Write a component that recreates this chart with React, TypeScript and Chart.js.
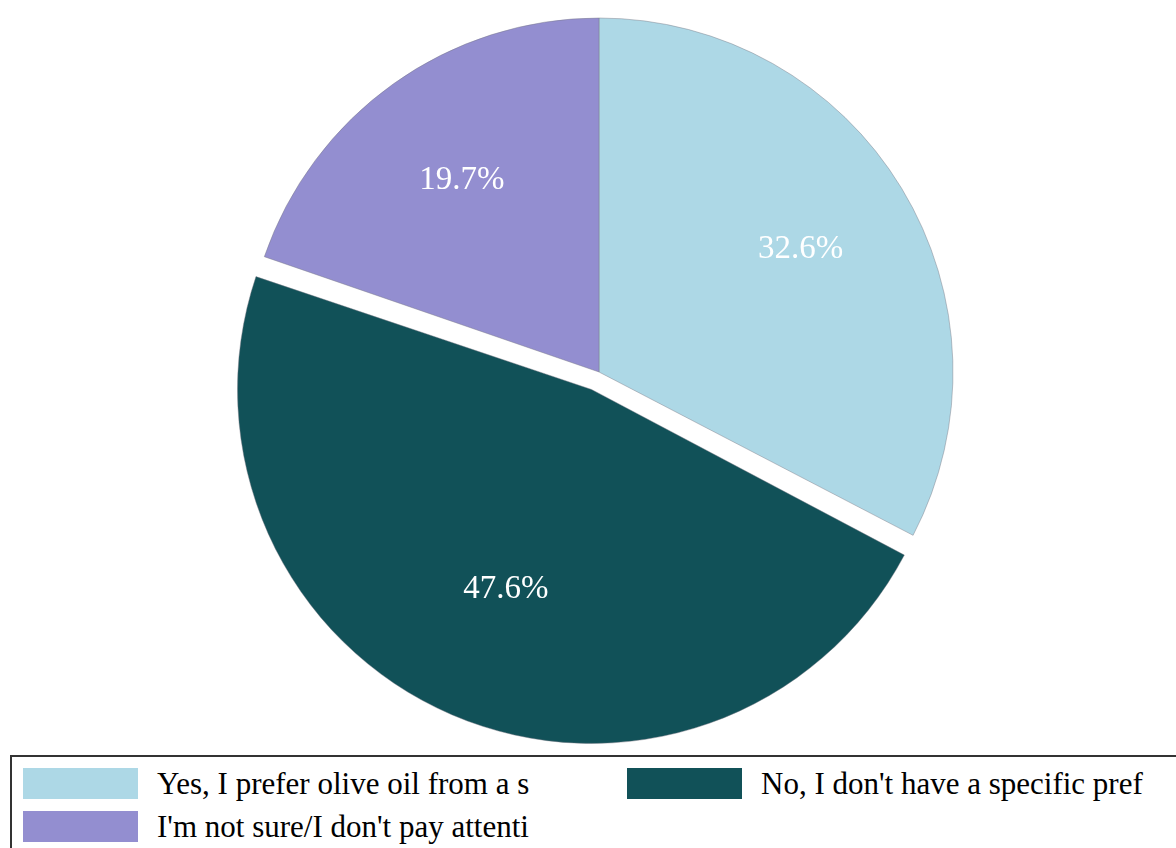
import React, { useEffect, useRef } from "react";
import { Chart, registerables } from "chart.js";

Chart.register(...registerables);

// ---- data ----
const categories = [
  "Yes, I prefer olive oil from a s",
  "No, I don't have a specific pref",
  "I'm not sure/I don't pay attenti",
];
const shares = [32.6, 47.6, 19.7];
const sliceColors = ["#add8e6", "#115158", "#938ed0"];
const sliceOffsets = [0, 76, 0];

const FONT = '"Liberation Serif", "Times New Roman", serif';

// keep exploded slice at the same radius as the others
const offsetRadiusFix = {
  id: "offsetRadiusFix",
  afterUpdate(chart: any) {
    chart.getSortedVisibleDatasetMetas().forEach((meta: any) => {
      meta.data.forEach((arc: any) => {
        const off = ((arc.options && arc.options.offset) || 0) / 4;
        if (!off) return;
        const fix = 1 - Math.sin(Math.min(Math.PI, arc.circumference || 0));
        arc.outerRadius -= off * fix;
      });
    });
  },
};

const pctLabels = {
  id: "pctLabels",
  afterDatasetsDraw(chart: any) {
    const meta = chart.getDatasetMeta(0);
    const r = (meta.controller as any).outerRadius;
    const ctx = chart.ctx;
    ctx.save();
    ctx.font = `33px ${FONT}`;
    ctx.fillStyle = "#ffffff";
    ctx.textAlign = "center";
    ctx.textBaseline = "middle";
    meta.data.forEach((arc: any, i: number) => {
      const { x, y, startAngle, endAngle } = arc.getProps(
        ["x", "y", "startAngle", "endAngle"],
        true
      );
      const mid = (startAngle + endAngle) / 2;
      ctx.fillText(
        shares[i].toFixed(1) + "%",
        x + Math.cos(mid) * r * (2 / 3),
        y + Math.sin(mid) * r * (2 / 3)
      );
    });
    ctx.restore();
  },
};

export default function App() {
  const canvasRef = useRef<HTMLCanvasElement | null>(null);

  useEffect(() => {
    if (!canvasRef.current) return;
    const chart = new Chart(canvasRef.current, {
      type: "pie",
      data: {
        labels: categories,
        datasets: [
          {
            data: shares,
            backgroundColor: sliceColors,
            borderColor: "rgba(120,120,130,0.55)",
            borderWidth: 0.8,
            offset: sliceOffsets,
          },
        ],
      },
      options: {
        responsive: false,
        animation: false,
        events: [],
        radius: 354,
        layout: { padding: { left: 22, right: 0, top: 0, bottom: 0 } },
        plugins: {
          legend: { display: false },
          tooltip: { enabled: false },
        },
      } as any,
      plugins: [offsetRadiusFix, pctLabels],
    });
    return () => chart.destroy();
  }, []);

  return (
    <div
      style={{
        position: "fixed",
        left: 0,
        top: 0,
        width: 1176,
        height: 848,
        overflow: "hidden",
        background: "#ffffff",
      }}
    >
      <canvas
        ref={canvasRef}
        width={1176}
        height={744}
        style={{ position: "absolute", left: 0, top: 0, width: 1176, height: 744 }}
      />
      <div
        style={{
          position: "absolute",
          left: 10,
          top: 755,
          width: 1220,
          height: 160,
          border: "2px solid #333333",
          boxSizing: "border-box",
          padding: "11px 0 0 11px",
          display: "grid",
          gridTemplateColumns: "604px 600px",
          gridAutoRows: "31px",
          rowGap: 12,
        }}
      >
        {categories.map((c, i) => (
          <div key={c} style={{ display: "flex", alignItems: "center", height: 31 }}>
            <div
              style={{
                width: 115,
                height: 31,
                background: sliceColors[i],
                flex: "0 0 auto",
              }}
            />
            <span
              style={{
                marginLeft: 19,
                fontFamily: FONT,
                fontSize: 31,
                color: "#000",
                whiteSpace: "nowrap",
                lineHeight: "normal",
              }}
            >
              {c}
            </span>
          </div>
        ))}
      </div>
    </div>
  );
}
